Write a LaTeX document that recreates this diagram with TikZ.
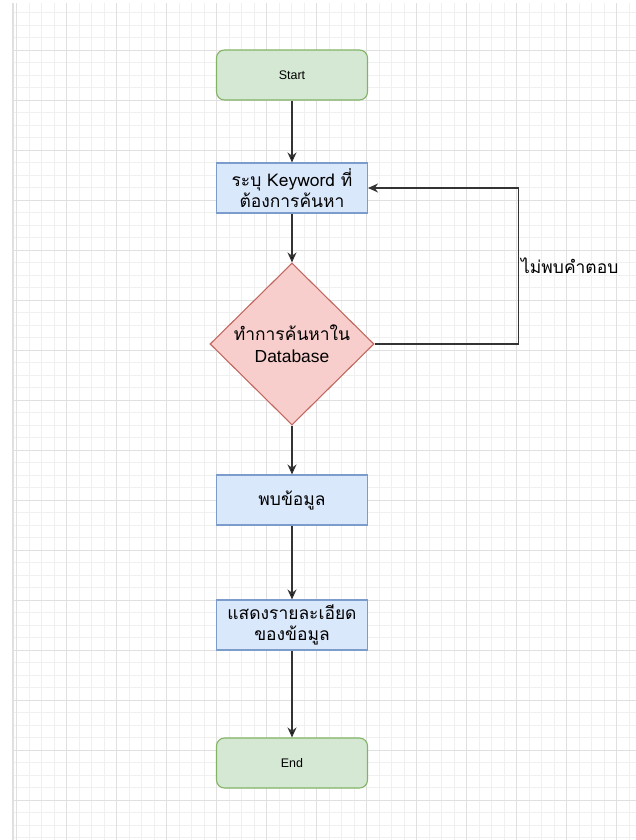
\documentclass[tikz,border=0pt]{standalone}
\usepackage{fontspec}
\setmainfont{Liberation Sans}
\newfontfamily\thai[Script=Thai]{Loma}
\usetikzlibrary{positioning,shapes.geometric,arrows.meta}
\definecolor{termfill}{HTML}{D5E8D4}
\definecolor{termline}{HTML}{82B366}
\definecolor{procfill}{HTML}{DAE8FC}
\definecolor{procline}{HTML}{7C9CCB}
\definecolor{decfill}{HTML}{F8CECC}
\definecolor{decline}{HTML}{C06860}
\definecolor{minorgrid}{HTML}{F0F0F0}
\definecolor{majorgrid}{HTML}{E0E0E0}
\tikzset{
  term/.style={draw=termline,fill=termfill,line width=1.1bp,rounded corners=8bp,
    minimum width=151bp,minimum height=50bp,font=\fontsize{12.5}{15}\selectfont},
  proc/.style={draw=procline,fill=procfill,line width=1.1bp,align=center,
    minimum width=151bp,minimum height=50bp,font=\fontsize{17.5}{21}\selectfont},
  decision/.style={diamond,draw=decline,fill=decfill,line width=1.1bp,align=center,
    inner sep=0pt,minimum width=164bp,minimum height=162bp,font=\fontsize{17.5}{22}\selectfont},
  flow/.style={draw=black!80,line width=1.3bp,-{Stealth[length=10bp,width=9bp]}}
}
\begin{document}
\begin{tikzpicture}[x=1bp,y=-1bp,node distance=120bp,on grid]
  \useasboundingbox (0,0) rectangle (636,840);
  % grid in the background
  \fill[white] (0,0) rectangle (636,840);
  \foreach \i in {0,...,49}
    \draw[minorgrid,line width=1bp] ({16.7+12.5*\i},3) -- ({16.7+12.5*\i},840);
  \foreach \i in {1,...,67}
    \draw[minorgrid,line width=1bp] (13,{12.5*\i}) -- (636,{12.5*\i});
  \foreach \i in {0,...,12}
    \draw[majorgrid,line width=1bp] ({16.7+50*\i},3) -- ({16.7+50*\i},840);
  \foreach \i in {1,...,16}
    \draw[majorgrid,line width=1bp] (13,{50*\i}) -- (636,{50*\i});
  \draw[majorgrid,line width=2bp] (13,3) -- (13,840);

  \node[term] (start) at (292,75) {Start};
  \node[proc] (keyword) [below=113bp of start] {\thai{ระบุ} Keyword \thai{ที่}\\\thai{ต้องการค้นหา}};
  \node[decision] (search) [below=156bp of keyword] {\thai{ทำการค้นหาใน}\\Database};
  \node[proc] (found) [below=156bp of search] {\thai{พบข้อมูล}};
  \node[proc] (show) [below=125bp of found] {\thai{แสดงรายละเอียด}\\\thai{ของข้อมูล}};
  \node[term] (end) [below=138bp of show] {End};
  \path[flow]
    (start) edge (keyword)
    (keyword) edge (search)
    (search) edge (found)
    (found) edge (show)
    (show) edge (end);
  \draw[flow] (search.east) -- ++(144,0)
    |- node[pos=0.25,anchor=west,inner sep=2bp,font=\fontsize{17.5}{21}\selectfont] {\thai{ไม่พบคำตอบ}} (keyword.east);
\end{tikzpicture}
\end{document}
